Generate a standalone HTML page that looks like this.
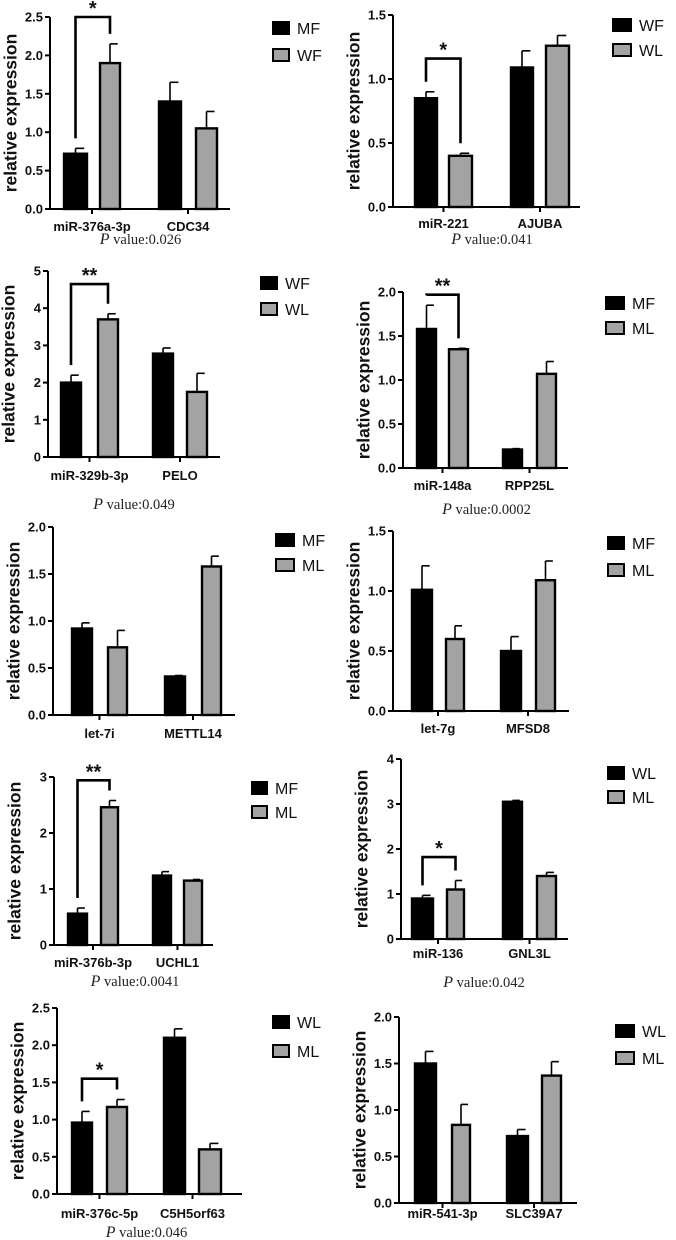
<!DOCTYPE html>
<html><head><meta charset="utf-8"><style>
html,body{margin:0;padding:0;background:#fff;}
svg{display:block;}
.tk{font-family:"Liberation Sans",sans-serif;font-weight:bold;font-size:13px;fill:#111;}
.cat{font-family:"Liberation Sans",sans-serif;font-weight:bold;font-size:13px;fill:#111;}
.yl{font-family:"Liberation Sans",sans-serif;font-weight:bold;font-size:17.5px;fill:#111;}
.lg{font-family:"Liberation Sans",sans-serif;font-size:16px;fill:#111;}
.pv{font-family:"Liberation Serif",serif;font-size:14.5px;fill:#222;}
.st{font-family:"Liberation Sans",sans-serif;font-weight:bold;font-size:20px;fill:#111;}
</style></head><body>
<svg id="fig" width="676" height="1240" viewBox="0 0 676 1240" xmlns="http://www.w3.org/2000/svg"></svg>
<script>
const cats1=["miR-376a-3p","CDC34"], vals1=[[0.72,1.40],[1.90,1.05]], errs1=[[0.07,0.25],[0.25,0.22]], series1=["MF","WF"], ticks1=[0,0.5,1.0,1.5,2.0,2.5];
const cats2=["miR-221","AJUBA"], vals2=[[0.85,1.09],[0.40,1.26]], errs2=[[0.05,0.13],[0.02,0.08]], series2=["WF","WL"], ticks2=[0,0.5,1.0,1.5];
const cats3=["miR-329b-3p","PELO"], vals3=[[2.0,2.78],[3.7,1.75]], errs3=[[0.2,0.15],[0.15,0.5]], series3=["WF","WL"], ticks3=[0,1,2,3,4,5];
const cats4=["miR-148a","RPP25L"], vals4=[[1.58,0.21],[1.35,1.07]], errs4=[[0.27,0.01],[0.01,0.14]], series4=["MF","ML"], ticks4=[0,0.5,1.0,1.5,2.0];
const cats5=["let-7i","METTL14"], vals5=[[0.92,0.41],[0.72,1.58]], errs5=[[0.06,0.01],[0.18,0.11]], series5=["MF","ML"], ticks5=[0,0.5,1.0,1.5,2.0];
const cats6=["let-7g","MFSD8"], vals6=[[1.01,0.50],[0.60,1.09]], errs6=[[0.2,0.12],[0.11,0.16]], series6=["MF","ML"], ticks6=[0,0.5,1.0,1.5];
const cats7=["miR-376b-3p","UCHL1"], vals7=[[0.56,1.24],[2.46,1.15]], errs7=[[0.1,0.07],[0.12,0.02]], series7=["MF","ML"], ticks7=[0,1,2,3];
const cats8=["miR-136","GNL3L"], vals8=[[0.90,3.05],[1.10,1.40]], errs8=[[0.07,0.03],[0.2,0.08]], series8=["WL","ML"], ticks8=[0,1,2,3,4];
const cats9=["miR-376c-5p","C5H5orf63"], vals9=[[0.96,2.10],[1.17,0.60]], errs9=[[0.15,0.12],[0.1,0.08]], series9=["WL","ML"], ticks9=[0,0.5,1.0,1.5,2.0,2.5];
const cats10=["miR-541-3p","SLC39A7"], vals10=[[1.50,0.72],[0.84,1.37]], errs10=[[0.13,0.07],[0.22,0.15]], series10=["WL","ML"], ticks10=[0,0.5,1.0,1.5,2.0];
const tickFmt1=1,tickFmt2=1,tickFmt3=0,tickFmt4=1,tickFmt5=1,tickFmt6=1,tickFmt7=0,tickFmt8=0,tickFmt9=1,tickFmt10=1;
const sigLabels=["*","*","**","**","","","**","*","*",""];
const sigTop=[2.5,1.16,4.65,1.97,0,0,2.94,1.82,1.55,0];
const pvals=["0.026","0.041","0.049","0.0002","","","0.0041","0.042","0.046",""];

const L=[
 {ax:50,ty:17,by:209,ex:230,bars:[[63,88],[99,121],[158,182],[195,218]],lb:272,lw:16,ly:[28,55],cy:226,py:244},
 {ax:393,ty:15,by:207,ex:580,bars:[[414,438],[448,473],[510,534],[545,570]],lb:612,lw:18,ly:[25,50],cy:223,py:244},
 {ax:48,ty:271,by:457,ex:220,bars:[[60,82],[97,119],[152,174],[186,208]],lb:260,lw:16,ly:[283,309],cy:475,py:509},
 {ax:403,ty:292,by:468,ex:568,bars:[[416,437],[448,469],[502,523],[536,557]],lb:605,lw:18,ly:[303,328],cy:485,py:514},
 {ax:53,ty:527,by:715,ex:235,bars:[[71,93],[107,128],[164,186],[201,222]],lb:275,lw:18,ly:[540,565],cy:733,py:0},
 {ax:393,ty:531,by:711,ex:569,bars:[[411,433],[445,465],[500,522],[535,556]],lb:607,lw:16,ly:[543,570],cy:728,py:0},
 {ax:54,ty:777,by:945,ex:213,bars:[[67,88],[100,119],[152,172],[183,203]],lb:251,lw:15,ly:[788,812],cy:962,py:986},
 {ax:401,ty:759,by:939,ex:568,bars:[[411,434],[446,465],[502,523],[536,557]],lb:607,lw:16,ly:[773,797],cy:953,py:987},
 {ax:57,ty:1008,by:1194,ex:242,bars:[[71,93],[106,128],[163,186],[198,222]],lb:272,lw:16,ly:[1022,1051],cy:1213,py:1237},
 {ax:399,ty:1017,by:1203,ex:577,bars:[[414,437],[451,471],[506,529],[541,562]],lb:615,lw:18,ly:[1031,1058],cy:1213,py:0}
];
const D=[[cats1,vals1,errs1,series1,ticks1,tickFmt1],[cats2,vals2,errs2,series2,ticks2,tickFmt2],[cats3,vals3,errs3,series3,ticks3,tickFmt3],[cats4,vals4,errs4,series4,ticks4,tickFmt4],[cats5,vals5,errs5,series5,ticks5,tickFmt5],[cats6,vals6,errs6,series6,ticks6,tickFmt6],[cats7,vals7,errs7,series7,ticks7,tickFmt7],[cats8,vals8,errs8,series8,ticks8,tickFmt8],[cats9,vals9,errs9,series9,ticks9,tickFmt9],[cats10,vals10,errs10,series10,ticks10,tickFmt10]];

const NS="http://www.w3.org/2000/svg";
const fig=document.getElementById('fig');
function mk(tag,attrs,parent,text){const e=document.createElementNS(NS,tag);for(const k in attrs)e.setAttribute(k,attrs[k]);if(text!==undefined)e.textContent=text;parent.appendChild(e);return e;}
const fills=["#000","#a3a3a3"];

D.forEach((d,i)=>{
 const [cats,vals,errs,series,ticks,fmt]=d; const g=L[i];
 const grp=mk('g',{},fig);
 
 
 const ymax=ticks[ticks.length-1];
 const y=v=>g.by-(v/ymax)*(g.by-g.ty);
 cats.forEach((c,ci)=>{
  series.forEach((s,si)=>{
   const b=g.bars[ci*2+si]; const v=vals[si][ci], e=errs[si][ci];
   const cx=(b[0]+b[1])/2;
   const el=mk('line',{x1:cx,x2:cx,y1:y(v),y2:y(v+e),stroke:'#000','stroke-width':1.6},grp);
   
   
   const cap=mk('line',{x1:cx,x2:cx+(b[1]-b[0])*0.35,y1:y(v+e),y2:y(v+e),stroke:'#000','stroke-width':1.6},grp);
   
   
   const r=mk('rect',{x:b[0]+1,y:y(v),width:b[1]-b[0]-2,height:g.by-y(v),fill:fills[si],stroke:'#000','stroke-width':2.4},grp);
   
   
  });
  const tx=(g.bars[ci*2][0]+g.bars[ci*2+1][1])/2;
  const tk=mk('line',{x1:tx,x2:tx,y1:g.by,y2:g.by+5,stroke:'#000','stroke-width':2},grp);
  
  
  const t=mk('text',{x:tx,y:g.cy+5,'text-anchor':'middle',class:'cat'},grp,c);
  
  
 });
 const ya=mk('line',{x1:g.ax,x2:g.ax,y1:g.ty,y2:g.by,stroke:'#000','stroke-width':2},grp);
 
 
 const xa=mk('line',{x1:g.ax-5,x2:g.ex,y1:g.by,y2:g.by,stroke:'#000','stroke-width':2},grp);
 
 
 ticks.forEach(tv=>{
  const l=mk('line',{x1:g.ax-5,x2:g.ax,y1:y(tv),y2:y(tv),stroke:'#000','stroke-width':2},grp);
  
  
  const t=mk('text',{x:g.ax-7,y:y(tv)+4.5,'text-anchor':'end',class:'tk'},grp,tv.toFixed(fmt));
  
  
 });
 const yc=(g.ty+g.by)/2, yx=g.ax-38;
 const yl=mk('text',{x:yx,y:yc,transform:`rotate(-90 ${yx} ${yc})`,'text-anchor':'middle','dominant-baseline':'middle',class:'yl'},grp,'relative expression');
 
 
 series.forEach((s,si)=>{
  const r=mk('rect',{x:g.lb+1,y:g.ly[si]-6,width:g.lw,height:12,fill:fills[si],stroke:'#000','stroke-width':2},grp);
  
  
  const t=mk('text',{x:g.lb+g.lw+9,y:g.ly[si]+6,class:'lg'},grp,s);
  
  
 });
 if(sigLabels[i]){
  const b1=g.bars[0],b2=g.bars[1];
  const x1=(b1[0]+b1[1])/2, x2=(b2[0]+b2[1])/2, top=y(sigTop[i]);
  const l1=y(vals[0][0]+errs[0][0])-10, l2=y(vals[1][0]+errs[1][0])-10;
  const p=mk('path',{d:`M${x1},${l1} V${top} H${x2} V${l2}`,fill:'none',stroke:'#000','stroke-width':2.6},grp);
  
  
  const s=mk('text',{x:(x1+x2)/2,y:top-2,'text-anchor':'middle',class:'st'},grp,sigLabels[i]);
  
  
 }
 if(pvals[i]){
  const px=(g.bars[0][0]+g.bars[3][1])/2;
  const t=mk('text',{x:px,y:g.py,'text-anchor':'middle',class:'pv'},grp);
  
  
  mk('tspan',{'font-style':'italic','font-size':'16px'},t,'P');
  mk('tspan',{},t,' value:'+pvals[i]);
 }
});
</script>
</body></html>
